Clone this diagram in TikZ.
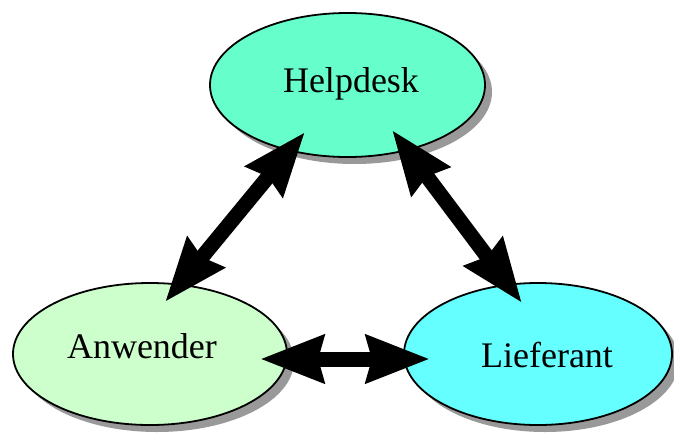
\documentclass[tikz,border=0pt]{standalone}
\usepackage{fontspec}
\setmainfont{Liberation Serif}
\usetikzlibrary{shapes.geometric,arrows.meta}
\definecolor{helpc}{RGB}{102,255,204}
\definecolor{anwc}{RGB}{204,255,204}
\definecolor{liefc}{RGB}{102,255,255}
\definecolor{shadowc}{RGB}{153,153,153}
\begin{document}
\begin{tikzpicture}[x=1pt,y=-1pt,
  ell/.style={ellipse,draw=black,line width=1.8pt,inner sep=0pt},
  shad/.style={ellipse,fill=shadowc,inner sep=0pt},
  lbl/.style={font=\fontsize{36}{40}\selectfont,inner sep=0pt,anchor=base},
  big/.style={line width=15pt,{Stealth[length=63pt,width=46pt,inset=5pt]}-{Stealth[length=63pt,width=46pt,inset=5pt]}}]
\useasboundingbox (0,0) rectangle (674,434);
% shadows
\node[shad,minimum width=275pt,minimum height=144pt] (hs) at (354.5,92) {};
\node[shad,minimum width=274pt,minimum height=142pt] (as) at (157,361) {};
\node[shad,minimum width=268pt,minimum height=142pt] (ls) at (545,361) {};
% ellipses
\node[ell,fill=helpc,minimum width=275pt,minimum height=144pt] (H) at (347.5,85) {};
\node[ell,fill=anwc,minimum width=274pt,minimum height=142pt] (A) at (150,354) {};
\node[ell,fill=liefc,minimum width=268pt,minimum height=142pt] (L) at (538,354) {};
% labels
\node[lbl] (Ht) at (351,92) {Helpdesk};
\node[lbl] (At) at (142,358) {Anwender};
\node[lbl] (Lt) at (547,367) {Lieferant};
% arrow end points
\coordinate (h1) at (305,132);
\coordinate (a1) at (165,302);
\coordinate (h2) at (392,130);
\coordinate (l1) at (522,303);
\coordinate (a2) at (260,359);
\coordinate (l2) at (430,359);
\draw[big] (a1) -- (h1);
\draw[big] (h2) -- (l1);
\draw[big] (a2) -- (l2);
\end{tikzpicture}
\end{document}
